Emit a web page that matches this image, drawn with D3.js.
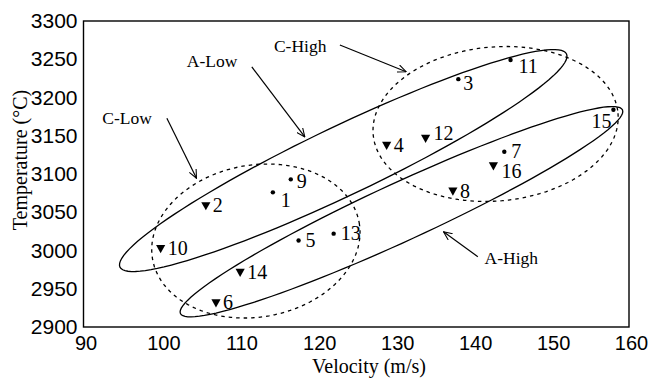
<!DOCTYPE html>
<meta charset="utf-8">
<style>
body { margin: 0; background: #fff; }
svg { display: block; font-family: "Liberation Serif", "Times New Roman", serif; }
.frame { fill: none; stroke: #000; stroke-width: 1.4px; }
.region { fill: none; stroke: #000; stroke-width: 1.3px; }
.region.dashed { stroke-dasharray: 3.5,4; }
.callout line { stroke: #000; stroke-width: 1.2px; }
.tick text { fill: #000; }
</style>
<svg width="650" height="379"></svg>
<script src="https://d3js.org/d3.v7.min.js"></script>
<script>

// --- data
var sampleIds   = [1, 2, 3, 4, 5, 6, 7, 8, 9, 10, 11, 12, 13, 14, 15, 16];
var velocity    = [114.3, 105.7, 138.1, 128.9, 117.6, 107.0, 144.0, 137.4, 116.6, 99.9, 144.8, 133.9, 122.1, 110.1, 158.0, 142.6];
var temperature = [3076, 3058, 3224, 3137, 3013, 2931, 3129, 3077, 3093, 3002, 3249, 3146, 3022, 2971, 3184, 3110];
var markerType  = ["dot", "tri", "dot", "tri", "dot", "tri", "dot", "tri", "dot", "tri", "dot", "tri", "dot", "tri", "dot", "tri"];

// grouping ellipses: centre, half major axis, half minor axis (velocity, temperature units)
var regionNames  = ["A-Low", "A-High", "C-Low", "C-High"];
var regionCenter = [[123.33, 3117.6], [130.80, 3050.7], [112.12, 3012.4], [142.88, 3165.4]];
var regionMajor  = [[28.65, 139.3], [28.36, 133.1], [13.26, 23.8], [15.71, 14.0]];
var regionMinor  = [[1.90, -40.7], [1.55, -34.4], [1.69, -97.8], [0.86, -100.3]];
var regionDashed = [false, false, true, true];

// callouts: text anchor, arrow start, arrow tip
var calloutText = ["A-Low", "C-High", "C-Low", "A-High"];
var calloutAt   = [[106.5, 3240], [117.8, 3260], [95.6, 3166], [144.9, 2982]];
var calloutFrom = [[111.6, 3240], [122.9, 3268.6], [100.7, 3172.8], [140.6, 2991.9]];
var calloutTo   = [[118.4, 3148.4], [131.4, 3233.7], [104.5, 3094.4], [136.2, 3024.4]];

var xTicks = [90, 100, 110, 120, 130, 140, 150, 160];
var yTicks = [2900, 2950, 3000, 3050, 3100, 3150, 3200, 3250, 3300];

// --- layout
var svg = d3.select("svg"),
    margin = {top: 21, right: 21, bottom: 52, left: 83.5},
    width = +svg.attr("width") - margin.left - margin.right,
    height = +svg.attr("height") - margin.top - margin.bottom,
    g = svg.append("g").attr("transform", "translate(" + margin.left + "," + margin.top + ")");

var x = d3.scaleLinear().domain([90, 160]).range([0, width]),
    y = d3.scaleLinear().domain([2900, 3300]).range([height, 0]);

// label nudges [dx, dy] in px; default is [7, 6]
var labelNudge = {1: [8, 15], 3: [5, 11], 9: [6, 9], 11: [8, 13], 12: [8, 1], 15: [-2, 18], 16: [8, 12]};

svg.append("defs").append("marker")
    .attr("id", "head")
    .attr("viewBox", "0 -5 10 10")
    .attr("refX", 9.5)
    .attr("refY", 0)
    .attr("markerUnits", "userSpaceOnUse")
    .attr("markerWidth", 9)
    .attr("markerHeight", 9)
    .attr("orient", "auto")
  .append("path")
    .attr("d", "M0,-4.2L9.5,0L0,4.2")
    .attr("fill", "none")
    .attr("stroke", "#000")
    .attr("stroke-width", 1.2);

// axes (no tick marks, labels only)
var xAxis = g.append("g")
    .attr("transform", "translate(0," + height + ")")
    .call(d3.axisBottom(x).tickValues(xTicks).tickSize(0).tickPadding(9).tickFormat(d3.format("d")));
xAxis.select(".domain").remove();
xAxis.selectAll("text").style("font-size", "20px").attr("dx", "0.1em");

var yAxis = g.append("g")
    .call(d3.axisLeft(y).tickValues(yTicks).tickSize(0).tickPadding(6).tickFormat(d3.format("d")));
yAxis.select(".domain").remove();
yAxis.selectAll("text").style("font-size", "21px");

g.append("rect")
    .attr("class", "frame")
    .attr("width", width)
    .attr("height", height);

svg.append("text")
    .attr("transform", "translate(27,160) rotate(-90)")
    .attr("text-anchor", "middle")
    .style("font-size", "20px")
    .text("Temperature (°C)");

svg.append("text")
    .attr("x", 369)
    .attr("y", 373)
    .attr("text-anchor", "middle")
    .style("font-size", "20px")
    .text("Velocity (m/s)");

// ellipses
var ring = d3.range(0, 121).map(function(i) { return i / 120 * 2 * Math.PI; });
var ellipseLine = d3.line().curve(d3.curveLinearClosed);

regionNames.forEach(function(name, k) {
  var c = regionCenter[k], a = regionMajor[k], b = regionMinor[k];
  var pts = ring.map(function(t) {
    var v = c[0] + Math.cos(t) * a[0] + Math.sin(t) * b[0],
        T = c[1] + Math.cos(t) * a[1] + Math.sin(t) * b[1];
    return [x(v), y(T)];
  });
  g.append("path")
      .attr("class", "region" + (regionDashed[k] ? " dashed" : ""))
      .attr("d", ellipseLine(pts));
});

// points
var points = sampleIds.map(function(id, i) {
  return {id: id, v: velocity[i], t: temperature[i], type: markerType[i]};
});

var pt = g.selectAll(".pt")
    .data(points)
  .enter().append("g")
    .attr("class", "pt")
    .attr("transform", function(d) { return "translate(" + x(d.v) + "," + y(d.t) + ")"; });

pt.filter(function(d) { return d.type === "dot"; })
  .append("circle")
    .attr("r", 2.2)
    .attr("fill", "#000");

pt.filter(function(d) { return d.type === "tri"; })
  .append("path")
    .attr("d", "M-4.6,-4L4.6,-4L0,4.2Z")
    .attr("fill", "#000");

pt.append("text")
    .attr("x", function(d) { return (labelNudge[d.id] || [7, 6])[0]; })
    .attr("y", function(d) { return (labelNudge[d.id] || [7, 6])[1]; })
    .attr("text-anchor", function(d) { return d.id === 15 ? "end" : "start"; })
    .style("font-size", "20px")
    .text(function(d) { return d.id; });

// callouts
var callout = g.selectAll(".callout")
    .data(calloutText)
  .enter().append("g")
    .attr("class", "callout");

callout.append("text")
    .attr("x", function(d, i) { return x(calloutAt[i][0]); })
    .attr("y", function(d, i) { return y(calloutAt[i][1]); })
    .attr("text-anchor", "middle")
    .style("font-size", "17.5px")
    .text(function(d) { return d; });

callout.append("line")
    .attr("x1", function(d, i) { return x(calloutFrom[i][0]); })
    .attr("y1", function(d, i) { return y(calloutFrom[i][1]); })
    .attr("x2", function(d, i) { return x(calloutTo[i][0]); })
    .attr("y2", function(d, i) { return y(calloutTo[i][1]); })
    .attr("marker-end", "url(#head)");

</script>
